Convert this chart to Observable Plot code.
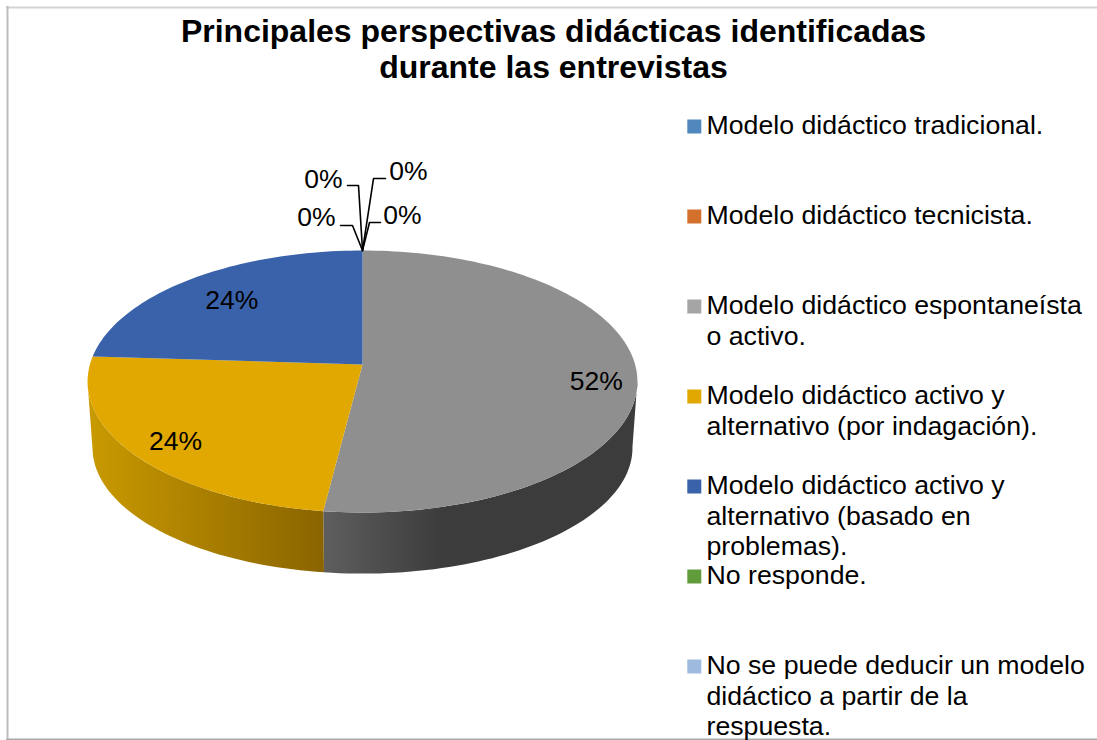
<!DOCTYPE html>
<html><head><meta charset="utf-8">
<script src="https://cdn.jsdelivr.net/npm/d3@7"></script>
<script src="https://cdn.jsdelivr.net/npm/@observablehq/plot@0.6"></script>
<style>html,body{margin:0;padding:0;background:#fff}svg{display:block}</style>
</head><body><div id="chart"></div>
<script>
// ---- data ----
const categories = ["Modelo didáctico tradicional.","Modelo didáctico tecnicista.","Modelo didáctico espontaneísta\no activo.","Modelo didáctico activo y\nalternativo (por indagación).","Modelo didáctico activo y\nalternativo (basado en\nproblemas).","No responde.","No se puede deducir un modelo\ndidáctico a partir de la\nrespuesta."];
const percents = [0,0,52,24,24,0,0];
const legendColors = ["#5087bd","#d2702c","#a5a5a5","#e0a800","#3a62aa","#619c3c","#9ebbdf"];
const topColors = ["#5087bd","#d2702c","#8f8f8f","#e0a800","#3a62aa","#619c3c","#9ebbdf"];
const titleText = "Principales perspectivas didácticas identificadas\ndurante las entrevistas";

// ---- layout ----
const W = 1097, H = 740;
const CX = 362, CY = 364, RX = 272.6, RY = 128.8, K = 0.13;
const BOTTOM = {cy: 431, rx: RX * 0.982, ry: RY * 0.96};
const rad = d => d * Math.PI / 180;
function project(deg, r = 1, g = {cy: CY, rx: RX, ry: RY}) {
  const u = r * Math.sin(rad(deg)), v = r * Math.cos(rad(deg)), w = 1 + K * v;
  return [CX + g.rx * u / w, g.cy - g.ry * v / w];
}
// slices from the percentages
let cum = 0;
const slices = percents.map((p, i) => { const a0 = cum * 3.6; cum += p; return {i, p, a0, a1: cum * 3.6, mid: (a0 + cum * 3.6) / 2}; });
const visible = slices.filter(s => s.p > 0);

const topPts = visible.flatMap(s => {
  const pts = [{i: s.i, x: CX, y: CY}];
  const n = Math.ceil((s.a1 - s.a0) / 1.5);
  for (let j = 0; j <= n; j++) { const [x, y] = project(s.a0 + (s.a1 - s.a0) * j / n); pts.push({i: s.i, x, y}); }
  pts.push({i: s.i, x: CX, y: CY});
  return pts;
});
// side walls: visible front part of the rim
const sideRange = {2: [97, 187.2], 3: [187.2, 262]};
const sidePts = Object.entries(sideRange).flatMap(([i, [a0, a1]]) => {
  const n = Math.ceil((a1 - a0) / 1.5), up = [], down = [];
  for (let j = 0; j <= n; j++) {
    const a = a0 + (a1 - a0) * j / n;
    const [x, y] = project(a); up.push({i: +i, x, y});
    const [xb, yb] = project(a, 1, BOTTOM); down.push({i: +i, x: xb, y: yb});
  }
  return [...up, ...down.reverse(), up[0]];
});

// labels
const labelRadius = {2: .85, 3: .85, 4: .75};
const labelDx = {2: 1, 3: 5, 4: 0};
const labelDy = {2: 10, 3: 2, 4: 2};
const labels = visible.map(s => { const [x, y] = project(s.mid, labelRadius[s.i]); return {x: x + labelDx[s.i], y: y + labelDy[s.i], t: s.p + "%"}; });
// zero slices: leader offsets from the rim point
const apex = project(0);
const leaderOffsets = [
  {path: [[-10, -25], [-22, -25]], label: [-46, -33]},
  {path: [[-4, -65], [-15, -65]], label: [-39, -71]},
  {path: [[11, -72], [23, -72]], label: [46, -79]},
  {path: [[7, -28], [18, -28]], label: [40, -35]}
];
const leaderPts = leaderOffsets.flatMap((l, k) => [[0, 0], ...l.path].map(([dx, dy]) => ({k, x: apex[0] + dx, y: apex[1] + dy})));
const leaderLabels = leaderOffsets.map(l => ({x: apex[0] + l.label[0], y: apex[1] + l.label[1], t: "0%"}));

// legend
const legendY = [126, 216, 306, 396, 486, 576, 666];
const legendSquares = categories.map((c, i) => ({c: legendColors[i], y: legendY[i]}));
const legendTexts = categories.map((c, i) => ({t: c, y: legendY[i] - 1}));

const gradient = (id, stops) => () => {
  const g = d3.create("svg:defs").append("linearGradient").attr("id", id);
  stops.forEach(([o, c]) => g.append("stop").attr("offset", o).attr("stop-color", c));
  return g.node().parentNode;
};
const FONT = "Liberation Sans";
const chart = Plot.plot({
  width: W, height: H, margin: 0,
  x: {domain: [0, W], range: [0, W], axis: null},
  y: {domain: [0, H], range: [0, H], axis: null},
  style: {fontFamily: FONT, background: "#fff"},
  marks: [
    gradient("sideGrey", [[0, "#5e5e5e"], [.38, "#3c3c3c"], [1, "#3c3c3c"]]),
    gradient("sideGold", [[0, "#c99a00"], [1, "#8a6400"]]),
    Plot.ruleY([7], {stroke: "#d3d3d3", strokeWidth: 2, x1: 6, x2: W}),
    Plot.ruleY([738.7], {stroke: "#a9a9a9", strokeWidth: 1.5, x1: 6, x2: W}),
    Plot.ruleX([7], {stroke: "#bdbdbd", strokeWidth: 2, y1: 6, y2: 739}),
    Plot.line(sidePts.filter(d => d.i === 2), {x: "x", y: "y", fill: "url(#sideGrey)", stroke: "none", curve: "linear"}),
    Plot.line(sidePts.filter(d => d.i === 3), {x: "x", y: "y", fill: "url(#sideGold)", stroke: "none", curve: "linear"}),
    Plot.line(topPts, {x: "x", y: "y", z: "i", fill: d => topColors[d.i], stroke: "none", curve: "linear"}),
    Plot.line(leaderPts, {x: "x", y: "y", z: "k", stroke: "#000", strokeWidth: 1.6, curve: "linear"}),
    Plot.text(labels, {x: "x", y: "y", text: "t", fontSize: 26.5, fill: "#000"}),
    Plot.text(leaderLabels, {x: "x", y: "y", text: "t", fontSize: 26.5, fill: "#000"}),
    Plot.text([titleText], {x: () => 553, y: () => 47.5, text: d => d, fontSize: 32, fontWeight: "bold", lineHeight: 1.125, fill: "#000"}),
    Plot.dot(legendSquares, {x: () => 693.8, y: "y", symbol: "square", r: 7.9, fill: "c", stroke: "none"}),
    Plot.text(legendTexts, {x: () => 706, y: "y", text: "t", textAnchor: "start", lineAnchor: "top", dy: -13, fontSize: 26.7, lineHeight: 1.145, fill: "#000"})
  ]
});
document.getElementById("chart").append(chart);
</script></body></html>
